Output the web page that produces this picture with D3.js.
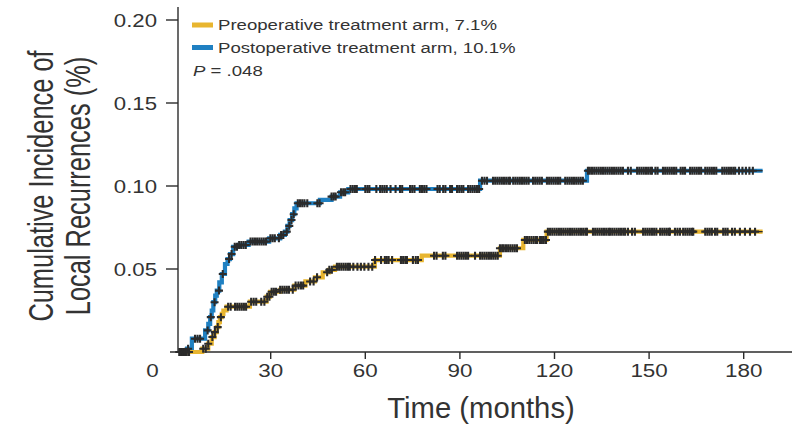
<!DOCTYPE html>
<html><head><meta charset="utf-8">
<script src="https://cdn.jsdelivr.net/npm/d3@7"></script>
<style>
html,body{margin:0;padding:0;background:#fff;}
svg{display:block;}
</style></head>
<body>
<svg id="c" width="795" height="426"></svg>
<script>
// ---------- data ----------
const xTicks = [30, 60, 90, 120, 150, 180];
const yTicks = [0.05, 0.10, 0.15, 0.20];
const seriesNames = ["Preoperative treatment arm, 7.1%", "Postoperative treatment arm, 10.1%"];
const pValueLabel = ".048";
const xTitle = "Time (months)";
const yTitleLines = ["Cumulative Incidence of", "Local Recurrences (%)"];

// step changes: [month, cumulative incidence]
const preSteps = [[2.5,0],[8.3,0.002],[10.2,0.005],[11.3,0.009],[12.2,0.012],[12.9,0.015],[13.4,0.018],[13.9,0.021],[14.5,0.023],[15.0,0.025],[16.0,0.0273],
  [23.4,0.0303],[28.7,0.0333],[29.8,0.0363],[33.0,0.0375],[37.5,0.040],[41.0,0.0425],[44.0,0.045],[46.5,0.048],[48.5,0.0495],[50.4,0.0514],
  [63.0,0.0554],[77.9,0.058],[102.7,0.0625],[110.1,0.0675],[117.5,0.0725],[186,0.0725]];
const postSteps = [[2.5,0],[3.5,0.002],[5.0,0.008],[9.2,0.013],[10.2,0.017],[10.8,0.021],[11.3,0.025],[11.8,0.030],[12.4,0.034],[12.9,0.037],[13.7,0.042],
  [14.5,0.047],[15.5,0.053],[16.3,0.056],[17.1,0.059],[18.1,0.0634],[20.0,0.0645],[23.0,0.0665],[29.5,0.0685],[33.0,0.0705],[34.5,0.0725],
  [35.3,0.076],[36.0,0.0795],[36.8,0.083],[37.5,0.0865],[38.2,0.0896],[45.6,0.0916],[49.3,0.0936],[52.0,0.0962],[54.6,0.0982],
  [96.4,0.1032],[130.3,0.1092],[186,0.1092]];

// censoring times (months)
const preCensor = [1.3,2.0,2.7,3.4,4.1,8.6,9.4,10.2,11.5,12.3,13.2,14.2,16.5,17.3,18.7,19.4,20.1,20.8,21.5,22.2,23.8,24.6,25.4,27.0,28.0,
  28.9,29.6,30.3,31.0,31.7,33.0,33.7,34.4,35.1,35.8,37.0,37.9,38.8,39.6,40.3,42.5,43.6,44.7,47.9,48.6,49.4,51.0,51.7,52.4,53.1,53.8,54.5,55.1,
  56.2,57.5,58.6,59.7,61.0,62.2,63.1,65.0,66.2,66.8,67.4,68.5,71.3,72.0,72.7,73.2,75.1,76.0,76.7,81.8,82.6,84.6,85.4,89.1,89.8,90.5,91.2,91.9,
  92.6,94.8,96.4,97.1,97.8,98.5,99.2,99.9,100.6,101.3,102.0,102.7,103.4,103.9,104.6,105.3,106.0,106.7,107.4,108.1,110.6,111.3,112.0,112.7,
  113.4,114.1,114.5,115.4,116.0,116.6,117.3,117.9,118.6,119.3,120.0,120.7,121.4,122.1,122.8,123.5,124.2,124.9,125.6,126.3,127.0,127.7,128.4,
  129.1,129.8,130.3,132.2,132.9,133.6,134.3,135.0,135.7,136.4,137.1,137.6,138.3,139.0,139.7,140.4,141.1,141.8,142.4,143.3,144.6,145.5,148.1,
  148.8,149.5,150.2,150.9,151.6,152.3,153.5,154.2,154.9,155.6,156.3,156.6,158.2,159.0,159.8,160.8,161.5,162.2,162.9,163.6,164.0,167.8,168.5,
  169.2,169.9,170.9,171.6,173.5,174.2,174.9,176.3,177.2,178.8,180.4,182.0,183.6];
const postCensor = [1.0,1.7,2.4,3.1,3.8,6.0,6.8,7.6,10.0,11.0,12.2,13.6,14.8,16.8,17.6,18.6,19.3,20.0,20.7,21.4,22.1,23.6,24.3,25.0,25.7,
  26.4,27.1,27.8,28.5,29.9,30.6,31.3,32.6,33.3,34.0,35.1,35.9,36.6,37.3,38.6,39.3,40.0,40.7,41.6,44.8,45.5,49.3,50.0,50.6,52.3,53.0,53.6,
  55.3,56.0,56.7,57.3,60.0,60.7,61.3,63.5,64.7,65.4,66.1,66.8,68.0,69.6,71.0,71.7,74.2,74.9,75.6,77.3,78.0,78.7,79.4,82.9,83.6,84.7,85.4,
  86.9,87.5,89.1,89.8,90.5,91.1,92.6,93.3,94.0,94.7,95.4,96.1,97.0,97.8,98.6,100.5,101.2,101.9,102.6,103.3,104.0,104.7,105.4,105.9,106.9,
  107.6,108.3,109.0,109.7,110.4,111.1,111.8,113.2,113.9,114.6,115.3,116.0,117.6,118.3,119.0,119.7,120.4,121.1,121.8,123.4,124.1,124.8,
  125.5,126.2,126.9,127.6,128.3,129.0,130.6,131.2,131.9,132.6,133.3,134.0,134.7,135.4,136.1,136.8,137.5,138.2,138.9,139.6,140.3,141.0,
  141.7,143.3,144.2,146.2,146.9,147.6,148.3,149.0,149.7,150.4,150.9,152.0,152.7,154.4,155.1,155.8,156.5,157.2,157.9,158.6,160.0,160.7,
  161.4,163.0,163.7,164.4,165.1,165.8,166.5,167.8,168.5,169.2,169.9,170.6,171.3,173.2,173.9,174.6,175.3,176.0,176.7,177.3,178.5,179.6,
  180.7,181.8,182.9];

// ---------- drawing ----------
const COL_PRE = "#e8b52f", COL_POST = "#1f80c2", INK = "#2b2b2b", TXT = "#333333";
const SX = 1.2;
const NARROW = 0.82;
const REG = "'Liberation Sans', Arial, Helvetica, sans-serif";
const svg = d3.select("#c");
const x = d3.scaleLinear().domain([0, 180]).range([176.1, 743.7]);
const y = d3.scaleLinear().domain([0, 0.2]).range([352, 20]);
const axisX = 178;

function stext(px, py, str, size, anchor, sx) {
  return svg.append("text")
    .attr("transform", `translate(${px},${py}) scale(${sx || SX},1)`)
    .attr("text-anchor", anchor)
    .style("font-family", REG)
    .style("font-size", size + "px")
    .attr("fill", TXT)
    .text(str);
}

// axes
svg.append("line").attr("x1", axisX).attr("x2", axisX).attr("y1", y(0)).attr("y2", 7)
  .attr("stroke", INK).attr("stroke-width", 1.4);
svg.append("line").attr("x1", 170).attr("x2", 792).attr("y1", y(0)).attr("y2", y(0))
  .attr("stroke", INK).attr("stroke-width", 1.4);
yTicks.forEach(v => {
  svg.append("line").attr("x1", axisX - 12).attr("x2", axisX).attr("y1", y(v)).attr("y2", y(v))
    .attr("stroke", INK).attr("stroke-width", 1.4);
  stext(157, y(v) + 6.8, d3.format(".2f")(v), 18.5, "end");
});
xTicks.forEach(v => {
  svg.append("line").attr("x1", x(v)).attr("x2", x(v)).attr("y1", y(0)).attr("y2", y(0) + 7)
    .attr("stroke", INK).attr("stroke-width", 1.4);
  stext(x(v), 377, String(v), 19, "middle", 1.18);
});
stext(152.5, 377, "0", 19, "middle", 1.18);

// axis titles (narrow look emulated by horizontal compression)
stext(481, 418, xTitle, 30, "middle", 1.19 * NARROW);
yTitleLines.forEach((ln, i) => {
  svg.append("text")
    .attr("transform", `translate(${53 + i * 37},186) scale(1.15,1) rotate(-90) scale(${NARROW},1)`)
    .attr("text-anchor", "middle")
    .style("font-family", REG).style("font-size", "31px")
    .attr("fill", TXT).text(ln);
});

// curves
const stepLine = d3.line().x(d => x(d[0])).y(d => y(d[1])).curve(d3.curveStepAfter);
function valueAt(steps, t) {
  const i = d3.bisector(d => d[0]).right(steps, t) - 1;
  return i < 0 ? 0 : steps[i][1];
}
[[postSteps, COL_POST], [preSteps, COL_PRE]].forEach(([s, c]) => {
  svg.append("path").attr("d", stepLine(s)).attr("fill", "none")
    .attr("stroke", c).attr("stroke-width", 4.2).attr("stroke-linejoin", "miter");
});
// thin dark tail beyond last censor mark
[[postSteps, postCensor], [preSteps, preCensor]].forEach(([s, cz]) => {
  const last = cz[cz.length - 1], end = s[s.length - 1][0];
  svg.append("line").attr("x1", x(last)).attr("x2", x(end))
    .attr("y1", y(valueAt(s, last))).attr("y2", y(valueAt(s, last)))
    .attr("stroke", INK).attr("stroke-width", 1.3);
});
// censor marks
[[postSteps, postCensor], [preSteps, preCensor]].forEach(([s, cz]) => {
  svg.append("g").selectAll("path").data(cz).join("path")
    .attr("d", t => {
      const cx = x(t), cy = y(valueAt(s, t));
      return `M${cx},${cy - 4}V${cy + 4}M${cx - 4},${cy}H${cx + 4}`;
    })
    .attr("stroke", INK).attr("stroke-width", 2.1).attr("fill", "none");
});

// legend
[[COL_PRE, 25, 30], [COL_POST, 47.5, 52.5]].forEach(([c, sy, ty], i) => {
  svg.append("rect").attr("x", 192).attr("y", sy - 2.5).attr("width", 21).attr("height", 5).attr("fill", c);
  stext(218, ty, seriesNames[i], 15.5, "start");
});
const pt = svg.append("text")
  .attr("transform", `translate(193,75.5) scale(${SX},1)`)
  .style("font-family", REG).style("font-size", "15.5px").attr("fill", TXT);
pt.append("tspan").style("font-style", "italic").text("P");
pt.append("tspan").text(" = " + pValueLabel);
</script>
</body></html>
